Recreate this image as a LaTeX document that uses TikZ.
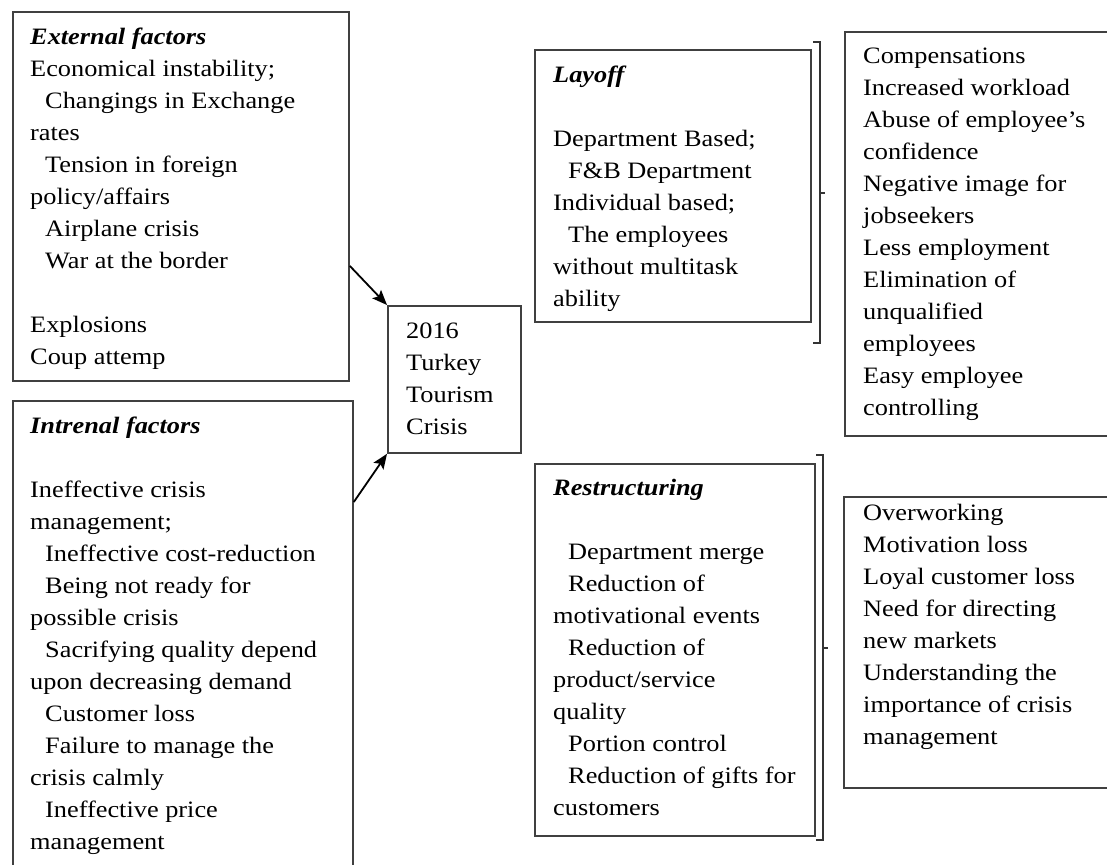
\documentclass[tikz,border=0pt]{standalone}
\usepackage{fontspec}
\setmainfont{Liberation Serif}[FakeStretch=1.12]
\usetikzlibrary{arrows.meta, positioning}

\newcommand{\indnt}{\hspace*{15pt}}
\newcommand{\heading}[1]{\strut\textbf{\textit{#1}}}

\begin{document}
\begin{tikzpicture}[
    x=1pt, y=-1pt,
    >={Stealth[length=15pt, width=12pt, inset=3pt]},
    frame/.style={draw=black!75, line width=1.8pt, anchor=north west, inner sep=0pt},
    txt/.style={anchor=north west, inner sep=0pt, align=left,
        font=\fontsize{23.5}{32}\selectfont},
    link/.style={->, line width=1.8pt},
    bracket/.style={draw=black!80, line width=1.4pt},
]
    \useasboundingbox (0,0) rectangle (1107,864);
    \clip (0,0) rectangle (1107,864);

    % frames
    \node[frame, minimum width=336pt, minimum height=369pt] (ext)     at (12,11)   {};
    \node[frame, minimum width=340pt, minimum height=500pt] (int)     at (12,400)  {};
    \node[frame, minimum width=133pt, minimum height=147pt] (crisis)  at (387,305) {};
    \node[frame, minimum width=276pt, minimum height=272pt] (layoff)  at (534,49)  {};
    \node[frame, minimum width=300pt, minimum height=404pt] (layfx)   at (844,31)  {};
    \node[frame, minimum width=280pt, minimum height=372pt] (restr)   at (534,463) {};
    \node[frame, minimum width=300pt, minimum height=291pt] (restrfx) at (843,496) {};

    % texts
    \node[txt] (exttxt) at ([xshift=18pt, yshift=-10.6pt]ext.north west) {%
        \heading{External factors}\\
        Economical instability;\\
        \indnt Changings in Exchange\\
        rates\\
        \indnt Tension in foreign\\
        policy/affairs\\
        \indnt Airplane crisis\\
        \indnt War at the border\\[32pt]
        Explosions\\
        Coup attemp};
    \node[txt] (inttxt) at ([xshift=18pt, yshift=-10.6pt]int.north west) {%
        \heading{Intrenal factors}\\[32pt]
        Ineffective crisis\\
        management;\\
        \indnt Ineffective cost-reduction\\
        \indnt Being not ready for\\
        possible crisis\\
        \indnt Sacrifying quality depend\\
        upon decreasing demand\\
        \indnt Customer loss\\
        \indnt Failure to manage the\\
        crisis calmly\\
        \indnt Ineffective price\\
        management};
    \node[txt] (crisistxt) at ([xshift=19pt, yshift=-10.6pt]crisis.north west) {%
        \strut 2016\\
        Turkey\\
        Tourism\\
        Crisis};
    \node[txt] (layofftxt) at ([xshift=19pt, yshift=-10.6pt]layoff.north west) {%
        \heading{Layoff}\\[32pt]
        Department Based;\\
        \indnt F\&B Department\\
        Individual based;\\
        \indnt The employees\\
        without multitask\\
        ability};
    \node[txt] (layfxtxt) at ([xshift=19pt, yshift=-9.6pt]layfx.north west) {%
        \strut Compensations\\
        Increased workload\\
        Abuse of employee’s\\
        confidence\\
        Negative image for\\
        jobseekers\\
        Less employment\\
        Elimination of\\
        unqualified\\
        employees\\
        Easy employee\\
        controlling};
    \node[txt] (restrtxt) at ([xshift=19pt, yshift=-9.6pt]restr.north west) {%
        \heading{Restructuring}\\[32pt]
        \indnt Department merge\\
        \indnt Reduction of\\
        motivational events\\
        \indnt Reduction of\\
        product/service\\
        quality\\
        \indnt Portion control\\
        \indnt Reduction of gifts for\\
        customers};
    \node[txt] (restrfxtxt) at ([xshift=20pt, yshift=-1.6pt]restrfx.north west) {%
        \strut Overworking\\
        Motivation loss\\
        Loyal customer loss\\
        Need for directing\\
        new markets\\
        Understanding the\\
        importance of crisis\\
        management};

    % arrows
    \draw[link] ([yshift=-69.5pt]ext.east) -- (crisis.north west);
    \draw[link] ([yshift=-102pt]int.north east) -- (crisis.south west);

    % brackets
    \draw[bracket] (813,42) -- (820,42) -- (820,343) -- (813,343);
    \draw[bracket] (820,193) -- (825,193);
    \draw[bracket] (816,455) -- (823,455) -- (823,840) -- (816,840);
    \draw[bracket] (823,648) -- (828,648);
\end{tikzpicture}
\end{document}
